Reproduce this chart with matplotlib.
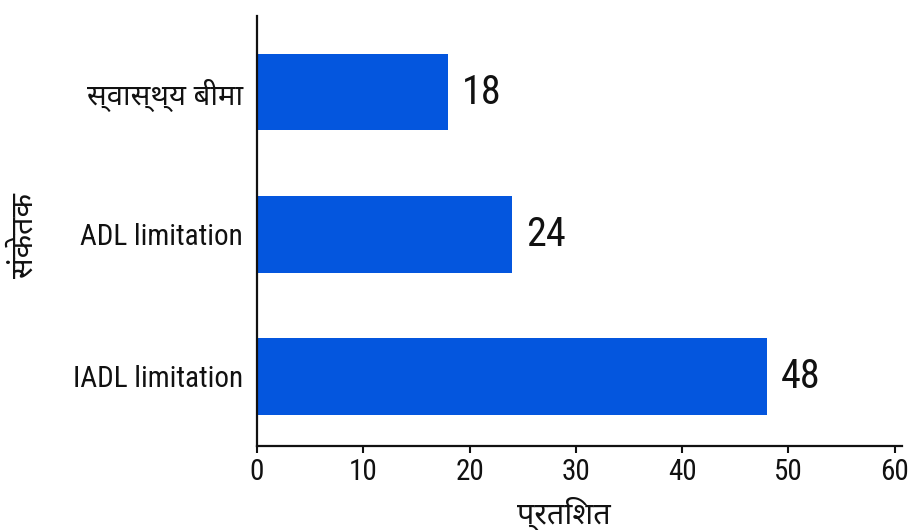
import matplotlib
matplotlib.use("Agg")
import matplotlib.pyplot as plt

# Indicator shares (percent), listed bottom to top
categories = ["IADL limitation", "ADL limitation", "स्वास्थ्य बीमा"]
values = [48, 24, 18]
x_ticks = [0, 10, 20, 30, 40, 50, 60]
x_label = "प्रतिशत"
y_label = "संकेतक"

LATIN = ["Roboto Condensed", "Noto Sans Devanagari", "DejaVu Sans"]
DEVANAGARI = ["Noto Sans Devanagari", "DejaVu Sans"]
plt.rcParams["font.family"] = LATIN
BAR_COLOR = "#0456DE"
INK = "#111111"


def has_devanagari(s):
    return any("\u0900" <= ch <= "\u097F" for ch in s)


fig = plt.figure(figsize=(9.11, 5.30), dpi=100)
ax = fig.add_axes([257 / 911, 1 - 446 / 530, 645 / 911, 430 / 530])

positions = list(range(len(categories)))
bars = ax.barh(positions, values, height=0.54, color=BAR_COLOR)

for rect, v in zip(bars, values):
    ax.text(rect.get_width() + 1.3, rect.get_y() + rect.get_height() / 2, f"{v}",
            va="center", ha="left", fontsize=29, color=INK)

ax.set_xlim(0, 60.7)
ax.set_ylim(-0.49, 2.535)
ax.set_xticks(x_ticks)
ax.set_xticklabels([str(t) for t in x_ticks], fontsize=21)
ax.set_yticks(positions)
ax.set_yticklabels(categories, fontsize=21)
for lbl in ax.get_yticklabels():
    if has_devanagari(lbl.get_text()):
        lbl.set_fontfamily(DEVANAGARI)
        lbl.set_fontsize(21)

ax.tick_params(axis="x", length=5, width=1.5, pad=4, color=INK, labelcolor=INK)
ax.tick_params(axis="y", length=0, pad=10, labelcolor=INK)

for side in ("top", "right"):
    ax.spines[side].set_visible(False)
for side in ("left", "bottom"):
    ax.spines[side].set_linewidth(1.6)
    ax.spines[side].set_color(INK)

ax.set_xlabel(x_label, fontsize=22, color=INK, family=DEVANAGARI)
ax.xaxis.set_label_coords(0.476, -0.117)
ax.set_ylabel(y_label, fontsize=22, color=INK, family=DEVANAGARI)
ax.yaxis.set_label_coords(-0.337, 0.49)

fig.savefig("out.png", dpi=100)
